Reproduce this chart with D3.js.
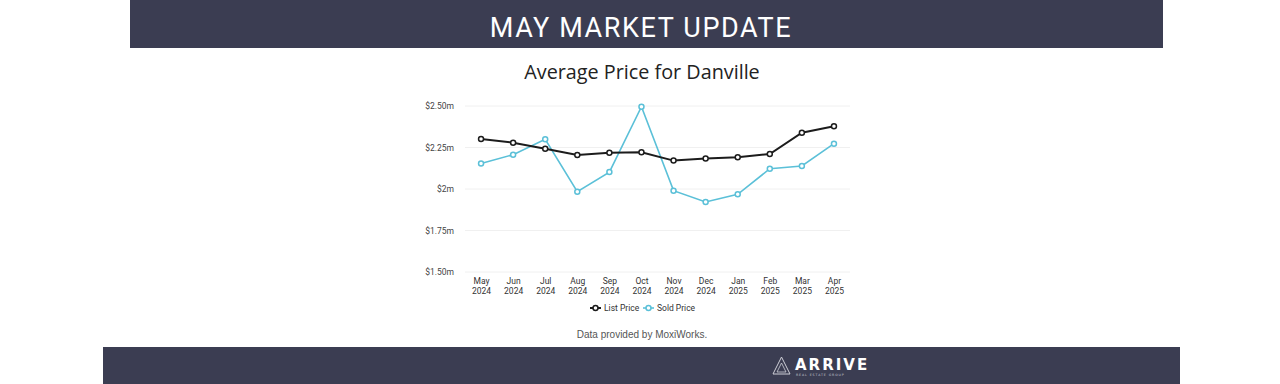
<!DOCTYPE html>
<html>
<head>
<meta charset="utf-8">
<script src="https://cdn.jsdelivr.net/npm/d3@7"></script>
<style>
  body { margin: 0; background: #fff; }
  svg { display: block; }
</style>
</head>
<body>
<svg width="1280" height="384"></svg>
<script>
// months on the x axis (two lines each)
var months = ["May", "Jun", "Jul", "Aug", "Sep", "Oct", "Nov", "Dec", "Jan", "Feb", "Mar", "Apr"];
var years = ["2024", "2024", "2024", "2024", "2024", "2024", "2024", "2024", "2025", "2025", "2025", "2025"];
// average prices, in millions
var listPrice = [2.301, 2.279, 2.243, 2.205, 2.219, 2.221, 2.171, 2.183, 2.191, 2.211, 2.339, 2.378];
var soldPrice = [2.153, 2.207, 2.299, 1.984, 2.102, 2.496, 1.990, 1.922, 1.968, 2.122, 2.139, 2.273];
var yTicks = [1.5, 1.75, 2, 2.25, 2.5];
var yTickLabels = ["$1.50m", "$1.75m", "$2m", "$2.25m", "$2.50m"];

var svg = d3.select("svg");
var banner = "#3b3d52";

// header band
svg.append("rect").attr("x", 130).attr("y", 0).attr("width", 1033).attr("height", 48).attr("fill", banner);
svg.append("text")
    .attr("x", 641).attr("y", 37)
    .attr("text-anchor", "middle")
    .style("font-family", "Roboto, sans-serif")
    .style("font-size", "27px")
    .style("letter-spacing", "1.6px")
    .style("fill", "#fff")
    .text("MAY MARKET UPDATE");

// footer band
svg.append("rect").attr("x", 103).attr("y", 347).attr("width", 1077).attr("height", 37).attr("fill", banner);

// chart title
svg.append("text")
    .attr("x", 642).attr("y", 79)
    .attr("text-anchor", "middle")
    .style("font-family", "'Open Sans', sans-serif")
    .style("font-size", "19.8px")
    .style("fill", "#222")
    .text("Average Price for Danville");

var x = d3.scalePoint()
    .domain(months.map(function (d, i) { return i; }))
    .range([465, 850])
    .padding(0.5);

var y = d3.scaleLinear()
    .domain([1.5, 2.5])
    .range([272, 106]);

var g = svg.append("g");

// grid lines
g.selectAll(".grid")
    .data(yTicks)
    .enter().append("line")
    .attr("x1", 465).attr("x2", 850)
    .attr("y1", function (d) { return y(d); })
    .attr("y2", function (d) { return y(d); })
    .attr("stroke", "#f0f0f0")
    .attr("stroke-width", 1);

// y axis labels
var yAxis = d3.axisLeft(y)
    .tickValues(yTicks)
    .tickSize(0)
    .tickPadding(0)
    .tickFormat(function (d, i) { return yTickLabels[i]; });
var yG = g.append("g").attr("transform", "translate(454,0)").call(yAxis);
yG.select(".domain").remove();
yG.selectAll("text")
    .style("font-family", "Roboto, sans-serif")
    .style("font-size", "8.5px")
    .style("fill", "#444");

// x axis labels
var xAxis = d3.axisBottom(x).tickSize(0).tickPadding(0).tickFormat("");
var xG = g.append("g").attr("transform", "translate(0,272)").call(xAxis);
xG.select(".domain").remove();
xG.selectAll(".tick").each(function (d) {
    var t = d3.select(this).append("text")
        .attr("text-anchor", "middle")
        .style("font-family", "Roboto, sans-serif")
        .style("font-size", "8.5px")
        .style("fill", "#333");
    t.append("tspan").attr("x", 0).attr("y", 12).text(months[d]);
    t.append("tspan").attr("x", 0).attr("y", 21.5).text(years[d]);
});

var line = d3.line()
    .x(function (d, i) { return x(i); })
    .y(function (d) { return y(d); });

var series = [
    { name: "List Price", values: listPrice, color: "#1c1c1c", width: 2 },
    { name: "Sold Price", values: soldPrice, color: "#5bc0d8", width: 1.6 }
];

// draw sold first so list sits on top
series.slice().reverse().forEach(function (s) {
    g.append("path")
        .datum(s.values)
        .attr("d", line)
        .attr("fill", "none")
        .attr("stroke", s.color)
        .attr("stroke-width", s.width);
    g.selectAll(null)
        .data(s.values)
        .enter().append("circle")
        .attr("cx", function (d, i) { return x(i); })
        .attr("cy", function (d) { return y(d); })
        .attr("r", 2.5)
        .attr("fill", "#fff")
        .attr("stroke", s.color)
        .attr("stroke-width", 1.5);
});

// legend
var legendX = [590, 643];
var legend = g.selectAll(".legend")
    .data(series)
    .enter().append("g")
    .attr("transform", function (d, i) { return "translate(" + legendX[i] + ",308)"; });
legend.append("line")
    .attr("x1", 0).attr("x2", 11)
    .attr("stroke", function (d) { return d.color; })
    .attr("stroke-width", function (d) { return d.width; });
legend.append("circle")
    .attr("cx", 5.5).attr("r", 2.5)
    .attr("fill", "#fff")
    .attr("stroke", function (d) { return d.color; })
    .attr("stroke-width", 1.5);
legend.append("text")
    .attr("x", 14).attr("y", 3)
    .style("font-family", "Roboto, sans-serif")
    .style("font-size", "8.5px")
    .style("fill", "#333")
    .text(function (d) { return d.name; });

// source note
svg.append("text")
    .attr("x", 642).attr("y", 338)
    .attr("text-anchor", "middle")
    .style("font-family", "'Liberation Sans', Arial, sans-serif")
    .style("font-size", "10px")
    .style("fill", "#555")
    .text("Data provided by MoxiWorks.");

// logo in footer
var logo = svg.append("g").attr("transform", "translate(773,357)");
logo.append("path")
    .attr("d", "M8.5,0 L17,17 L0,17 Z")
    .attr("fill", "none").attr("stroke", "#cfd0d8").attr("stroke-width", 1);
logo.append("path")
    .attr("d", "M8.5,6 L13,15 L4,15 Z")
    .attr("fill", "none").attr("stroke", "#cfd0d8").attr("stroke-width", 0.8);
logo.append("text")
    .attr("x", 22).attr("y", 13)
    .style("font-family", "'DejaVu Sans', sans-serif")
    .style("font-weight", "bold")
    .style("font-size", "15px")
    .style("letter-spacing", "2px")
    .style("fill", "#fff")
    .text("ARRIVE");
logo.append("text")
    .attr("x", 23).attr("y", 18.5)
    .style("font-family", "'DejaVu Sans', sans-serif")
    .style("font-size", "3.2px")
    .style("letter-spacing", "0.9px")
    .style("fill", "#c8c9d2")
    .text("REAL ESTATE GROUP");
</script>
</body>
</html>
